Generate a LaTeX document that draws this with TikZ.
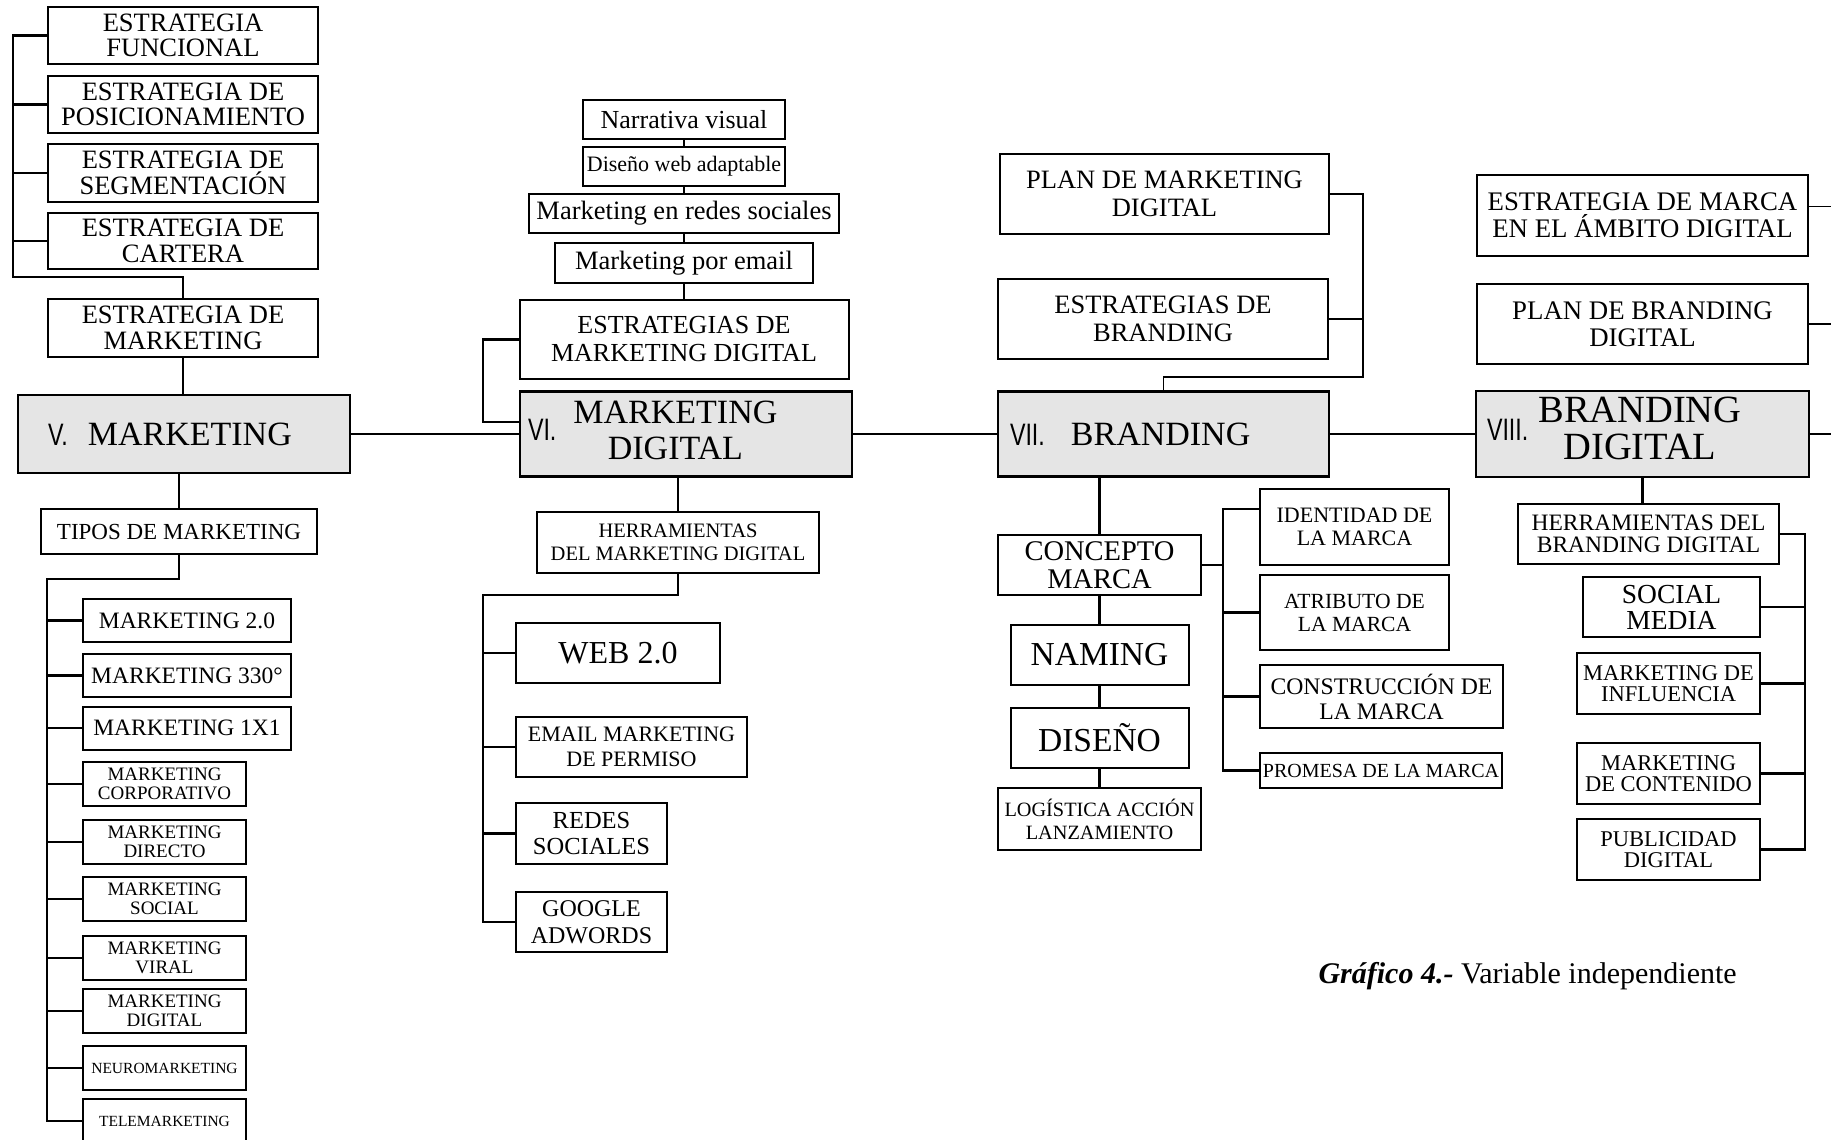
\documentclass[tikz,border=0pt]{standalone}
\usepackage{fontspec}
\setmainfont{Liberation Serif}
\newfontfamily\numf[FakeStretch=0.75]{Liberation Sans}
\newcommand{\fsz}[2]{\fontsize{#1}{#2}\selectfont}
\tikzset{
  box/.style={draw, line width=2pt, inner sep=0pt, align=center},
  mainbox/.style={draw, fill=gray!20, line width=2.6pt, inner ysep=0pt, align=left},
  conn/.style={line width=2.4pt},
  thinconn/.style={line width=1.6pt}
}
\begin{document}
\begin{tikzpicture}[x=1pt,y=-1pt]
\path[use as bounding box, clip] (0,0) rectangle (1831,1140);
\node[box, minimum width=270, minimum height=57, font=\fsz{26.5}{25.5}] (efunc) at (183,35.5) {ESTRATEGIA\\FUNCIONAL};
\node[box, minimum width=270, minimum height=57, font=\fsz{26.5}{25.5}] (epos) at (183,104.5) {ESTRATEGIA DE\\POSICIONAMIENTO};
\node[box, minimum width=270, minimum height=58, font=\fsz{26.5}{25.5}] (eseg) at (183,173) {ESTRATEGIA DE\\SEGMENTACIÓN};
\node[box, minimum width=270, minimum height=56, font=\fsz{26.5}{25.5}] (ecart) at (183,241) {ESTRATEGIA DE\\CARTERA};
\node[box, minimum width=270, minimum height=58, font=\fsz{26.5}{25.5}] (emkt) at (183,328) {ESTRATEGIA DE\\MARKETING};
\node[mainbox, minimum height=78, text width=272, inner xsep=30, font=\fsz{34}{36}] (mkt) at (184,434) {{\numf\fsz{31}{31}V.}\hspace{20pt}MARKETING};
\node[box, minimum width=276, minimum height=45, font=\fsz{23}{23}] (tipos) at (179,531.5) {TIPOS DE MARKETING};
\foreach \n/\y/\t in {m20/620.5/MARKETING 2.0, m330/675.5/MARKETING 330°, m1x1/728/MARKETING 1X1}
  \node[box, minimum width=208, minimum height=43, font=\fsz{23.5}{23.5}] (\n) at (187,\y) {\t};
\foreach \n/\y/\t in {mcorp/784/CORPORATIVO, mdir/842/DIRECTO, msoc/899/SOCIAL, mvir/958/VIRAL, mdigi/1011/DIGITAL}
  \node[box, minimum width=163, minimum height=44, font=\fsz{19}{19}] (\n) at (164.5,\y) {MARKETING\\\t};
\foreach \n/\y/\t in {mneuro/1068/NEUROMARKETING, mtele/1121/TELEMARKETING}
  \node[box, minimum width=163, minimum height=44, font=\fsz{15.5}{15.5}] (\n) at (164.5,\y) {\t};
\coordinate (lbus) at (13,277);
\draw[conn] (efunc.west) -| (lbus) -| (emkt.north);
\foreach \n in {epos,eseg,ecart} \draw[conn] (\n.west) -- (\n.west -| lbus);
\draw[conn] (emkt.south) -- (emkt.south |- mkt.north);
\draw[conn] (tipos.north) -- (tipos.north |- mkt.south);
\coordinate (mbus) at (47,579);
\draw[conn] (tipos.south) |- (mbus) |- (mtele.west);
\foreach \n in {m20,m330,m1x1,mcorp,mdir,msoc,mvir,mdigi,mneuro} \draw[conn] (\n.west) -- (\n.west -| mbus);
\node[box, minimum width=202, minimum height=39, font=\fsz{26}{26}] (narr) at (684,119.5) {Narrativa visual};
\node[box, minimum width=202, minimum height=39, font=\fsz{22}{22}] (dweb) at (684,166.5) {Diseño web adaptable};
\node[box, minimum width=310, minimum height=39, font=\fsz{26.5}{26.5}] (mredes) at (684,213.5) {Marketing en redes sociales};
\node[box, minimum width=258, minimum height=40, font=\fsz{26.5}{26.5}] (memail) at (684,263) {Marketing por email};
\node[box, minimum width=329, minimum height=79, font=\fsz{26}{28}] (estmd) at (684,339.5) {ESTRATEGIAS DE\\MARKETING DIGITAL};
\node[mainbox, minimum height=85, text width=316, inner xsep=8, font=\fsz{34}{36}] (mdig) at (686,434) {{\numf\fsz{31}{31}VI.}\hspace{17pt}\begin{tabular}{@{}c@{}}MARKETING\\DIGITAL\end{tabular}};
\node[box, minimum width=282, minimum height=61, font=\fsz{20.5}{23}] (herrmd) at (678,542.5) {HERRAMIENTAS\\DEL MARKETING DIGITAL};
\node[box, minimum width=204, minimum height=60, font=\fsz{32}{32}] (web) at (618,653) {WEB 2.0};
\node[box, minimum width=231, minimum height=60, font=\fsz{22}{25}] (emailp) at (631.5,747) {EMAIL MARKETING\\DE PERMISO};
\node[box, minimum width=151, minimum height=61, font=\fsz{24.5}{26.5}] (redes) at (591.5,833.5) {REDES\\SOCIALES};
\node[box, minimum width=151, minimum height=60, font=\fsz{24}{26.5}] (google) at (591.5,922) {GOOGLE\\ADWORDS};
\draw[thinconn] (narr) -- (dweb) -- (mredes) -- (memail) -- (estmd);
\coordinate (vbr) at (483,0);
\draw[conn] (estmd.west) -| ([yshift=12pt]mdig.west -| vbr) -- ([yshift=12pt]mdig.west);
\draw[conn] (herrmd.north) -- (herrmd.north |- mdig.south);
\coordinate (tbus) at (483,595);
\draw[conn] (herrmd.south) |- (tbus) |- (google.west);
\foreach \n in {web,emailp,redes} \draw[conn] (\n.west) -- (\n.west -| tbus);
\node[box, minimum width=329, minimum height=80, font=\fsz{26.5}{28}] (pmd) at (1164.5,194) {PLAN DE MARKETING\\DIGITAL};
\node[box, minimum width=330, minimum height=80, font=\fsz{26.5}{28}] (estb) at (1163,319) {ESTRATEGIAS DE\\BRANDING};
\node[mainbox, minimum height=85, text width=307, inner xsep=12, font=\fsz{34}{36}] (brand) at (1163.5,434) {{\numf\fsz{31}{31}VII.}\hspace{26pt}BRANDING};
\node[box, minimum width=203, minimum height=60, font=\fsz{28.5}{27.5}] (concepto) at (1099.5,565) {CONCEPTO\\MARCA};
\node[box, minimum width=178, minimum height=60, font=\fsz{33.5}{33.5}] (naming) at (1099.5,655) {NAMING};
\node[box, minimum width=178, minimum height=60, font=\fsz{33.5}{33.5}] (diseno) at (1099.5,738) {DISEÑO};
\node[box, minimum width=203, minimum height=62, font=\fsz{20.3}{23}] (logist) at (1099.5,819) {LOGÍSTICA ACCIÓN\\LANZAMIENTO};
\node[box, minimum width=189, minimum height=76, font=\fsz{22}{23}] (ident) at (1354.5,527) {IDENTIDAD DE\\LA MARCA};
\node[box, minimum width=189, minimum height=75, font=\fsz{21.6}{23}] (atrib) at (1354.5,612.5) {ATRIBUTO DE\\LA MARCA};
\node[box, minimum width=243, minimum height=63, font=\fsz{23.7}{25}] (constr) at (1381.5,696.5) {CONSTRUCCIÓN DE\\LA MARCA};
\node[box, minimum width=242, minimum height=35, font=\fsz{20}{20}] (promesa) at (1381,770.5) {PROMESA DE LA MARCA};
\coordinate (bbr) at (1363,377);
\draw[thinconn] (pmd.east) -| (bbr) -| (brand.north);
\draw[thinconn] (estb.east) -- (estb.east -| bbr);
\draw[conn] (concepto.north) -- (concepto.north |- brand.south);
\draw[conn] (concepto) -- (naming) -- (diseno) -- (logist);
\coordinate (cbus) at (1223,565);
\draw[conn] (concepto.east) -- (cbus);
\draw[conn] ([yshift=18pt]ident.west) -| (cbus) |- (promesa.west);
\foreach \n in {atrib,constr} \draw[conn] (\n.west) -- (\n.west -| cbus);
\node[box, minimum width=331, minimum height=81, font=\fsz{26.8}{26.5}] (emd) at (1642.5,215.5) {ESTRATEGIA DE MARCA\\EN EL ÁMBITO DIGITAL};
\node[box, minimum width=331, minimum height=80, font=\fsz{26.8}{27}] (pbd) at (1642.5,324) {PLAN DE BRANDING\\DIGITAL};
\node[mainbox, minimum height=86, text width=311, inner xsep=11, font=\fsz{38.5}{37}] (bdig) at (1642.5,434) {{\numf\fsz{31}{31}VIII.}\hspace{10pt}\begin{tabular}{@{}c@{}}BRANDING\\DIGITAL\end{tabular}};
\node[box, minimum width=261, minimum height=60, font=\fsz{23.5}{22.5}] (herrbd) at (1648.5,534) {HERRAMIENTAS DEL\\BRANDING DIGITAL};
\node[box, minimum width=177, minimum height=60, font=\fsz{27.5}{26}] (socmed) at (1671.5,607) {SOCIAL\\MEDIA};
\node[box, minimum width=183, minimum height=61, font=\fsz{22.5}{21.5}] (minfl) at (1668.5,683.5) {MARKETING DE\\INFLUENCIA};
\node[box, minimum width=183, minimum height=61, font=\fsz{22.5}{21.5}] (mcont) at (1668.5,773.5) {MARKETING\\DE CONTENIDO};
\node[box, minimum width=183, minimum height=61, font=\fsz{22.5}{21.5}] (pubdig) at (1668.5,849.5) {PUBLICIDAD\\DIGITAL};
\coordinate (redge) at (1831,0);
\draw[thinconn] ([yshift=9pt]emd.east) -- ([yshift=9pt]emd.east -| redge);
\draw[thinconn] (pbd.east) -- (pbd.east -| redge);
\draw[conn] (mkt.east) -- (mdig.west) (mdig.east) -- (brand.west) (brand.east) -- (bdig.west);
\draw[thinconn] (bdig.east) -- (bdig.east -| redge);
\draw[conn] (bdig.south) -- (bdig.south |- herrbd.north);
\coordinate (hbus) at (1805,700);
\draw[conn] (herrbd.east) -| (hbus) |- (pubdig.east);
\foreach \n in {socmed,minfl,mcont} \draw[conn] (\n.east) -- (\n.east -| hbus);
\node[anchor=base west, font=\fsz{30}{30}] (cap) at (1315,983) {\textbf{\textit{Gráfico 4.-}} Variable independiente};
\end{tikzpicture}
\end{document}
